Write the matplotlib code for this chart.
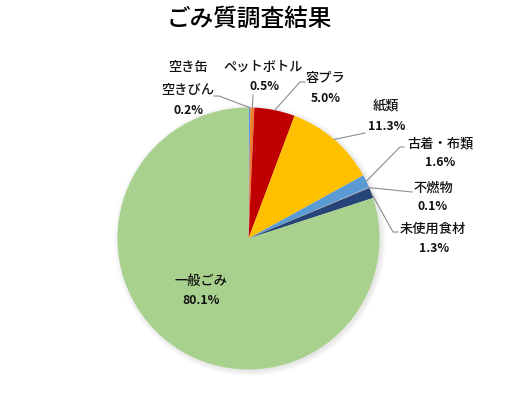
import numpy as np
import matplotlib
matplotlib.use("Agg")
import matplotlib.pyplot as plt
from matplotlib.patches import Circle

plt.rcParams['font.family'] = ['Noto Sans CJK JP', 'DejaVu Sans']

# Données (ordre Excel, sens horaire depuis midi)
categories = ['空き缶', '空きびん', 'ペットボトル', '容プラ', '紙類',
              '古着・布類', '不燃物', '未使用食材', '一般ごみ']
values = [0.02, 0.2, 0.5, 5.0, 11.3, 1.6, 0.1, 1.3, 80.1]
value_labels = ['', '0.2%', '0.5%', '5.0%', '11.3%', '1.6%', '0.1%', '1.3%', '80.1%']
colors = ['#4472C4', '#5B9BD5', '#ED7D31', '#C00000', '#FFC000',
          '#5B9BD5', '#A5A5A5', '#264478', '#A9D18E']

W, H = 532, 398
cx, cy, R = 248.5, 238.5, 131

# position des étiquettes (pixels, y depuis le haut) : nom, valeur, coude de la ligne
label_pos = {
    '空き缶': ((188, 67), None, None),
    '空きびん': ((188, 90), (188, 110), [(219, 96), (214, 96)]),
    'ペットボトル': ((263, 67), (265, 87), [(253, 95)]),
    '容プラ': ((325, 78), (326, 98), [(300, 82), (305, 82)]),
    '紙類': ((386, 105), (387, 126), [(365, 133)]),
    '古着・布類': ((441, 143), (440, 163), [(400, 147), (404, 147)]),
    '不燃物': ((433, 188), (433, 207), [(412, 192)]),
    '未使用食材': ((433, 229), (434, 248), [(393, 232), (398, 232)]),
    '一般ごみ': ((201, 281), (201, 300), None),
}

fig = plt.figure(figsize=(W / 100, H / 100), dpi=100)
ax = fig.add_axes([0, 0, 1, 1])
ax.set_xlim(0, W)
ax.set_ylim(0, H)
ax.set_aspect('equal')
ax.axis('off')

def fy(y):
    return H - y

# ombre douce
for i in range(8):
    ax.add_patch(Circle((cx + 1.5, fy(cy) - 1.5), R + 5 - i * 0.7,
                        color='black', alpha=0.012, lw=0, zorder=1))

wedges, _ = ax.pie(values, colors=colors, startangle=90, counterclock=False,
                   center=(cx, fy(cy)), radius=R, frame=True,
                   wedgeprops=dict(linewidth=0, zorder=2))
ax.set_xlim(0, W)
ax.set_ylim(0, H)
ax.axis('off')

cum = np.cumsum([0] + values[:-1])
total = sum(values)
for i, cat in enumerate(categories):
    name_xy, val_xy, elbow = label_pos[cat]
    ax.text(name_xy[0], fy(name_xy[1]), cat, ha='center', va='center',
            fontsize=9.5, fontweight='medium', color='#111111', zorder=5)
    if val_xy is not None:
        ax.text(val_xy[0], fy(val_xy[1]), value_labels[i], ha='center', va='center',
                fontsize=8.8, fontweight='bold', color='#111111', zorder=5)
    if elbow:
        mid = (cum[i] + values[i] / 2) / total * 2 * np.pi
        ex, ey = cx + R * np.sin(mid), cy - R * np.cos(mid)
        xs = [ex] + [p[0] for p in elbow]
        ys = [fy(ey)] + [fy(p[1]) for p in elbow]
        ax.plot(xs, ys, color='#8c8c8c', lw=0.8, zorder=4)

ax.text(249, fy(19), 'ごみ質調査結果', ha='center', va='center',
        fontsize=17, fontweight='medium', color='black')

fig.savefig('out.png', dpi=100)
